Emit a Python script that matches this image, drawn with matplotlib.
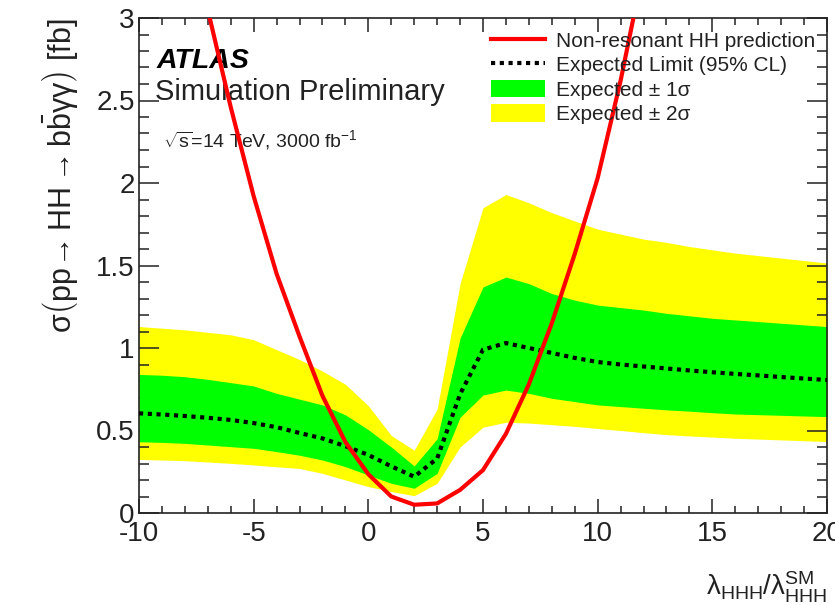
import numpy as np
import matplotlib
matplotlib.use("Agg")
import matplotlib.pyplot as plt
from matplotlib.ticker import MultipleLocator, FuncFormatter
from matplotlib.lines import Line2D
from matplotlib.patches import Patch

plt.rcParams['font.family'] = ['Liberation Sans', 'DejaVu Sans']
plt.rcParams['mathtext.fontset'] = 'custom'
plt.rcParams['mathtext.rm'] = 'Liberation Sans'
plt.rcParams['mathtext.it'] = 'Liberation Sans:italic'
plt.rcParams['mathtext.bf'] = 'Liberation Sans:bold'
plt.rcParams['mathtext.default'] = 'regular'
plt.rcParams['axes.unicode_minus'] = False

# ---- data ----
kappa = [-10, -9, -8, -7, -6, -5, -4, -3, -2, -1, 0, 1, 2, 3, 4, 5, 6, 7, 8, 9,
         10, 11, 12, 13, 14, 15, 16, 17, 18, 19, 20]
exp_limit = [0.604, 0.597, 0.588, 0.577, 0.564, 0.545, 0.520, 0.485, 0.452, 0.405,
             0.352, 0.283, 0.220, 0.330, 0.720, 0.990, 1.030, 1.000, 0.970, 0.940,
             0.915, 0.900, 0.888, 0.876, 0.864, 0.853, 0.843, 0.834, 0.824, 0.815, 0.806]
band1_hi = [0.840, 0.835, 0.826, 0.810, 0.790, 0.770, 0.725, 0.690, 0.655, 0.595,
            0.505, 0.400, 0.285, 0.450, 1.060, 1.370, 1.430, 1.390, 1.330, 1.290,
            1.260, 1.245, 1.230, 1.210, 1.195, 1.180, 1.170, 1.160, 1.150, 1.140, 1.130]
band1_lo = [0.432, 0.428, 0.422, 0.412, 0.402, 0.392, 0.372, 0.350, 0.321, 0.281,
            0.230, 0.180, 0.150, 0.240, 0.580, 0.715, 0.745, 0.725, 0.695, 0.675,
            0.655, 0.645, 0.635, 0.625, 0.617, 0.608, 0.600, 0.596, 0.592, 0.588, 0.584]
band2_hi = [1.130, 1.120, 1.110, 1.095, 1.080, 1.050, 0.990, 0.930, 0.860, 0.780,
            0.650, 0.470, 0.380, 0.630, 1.390, 1.850, 1.930, 1.880, 1.820, 1.770,
            1.720, 1.690, 1.660, 1.640, 1.615, 1.595, 1.575, 1.560, 1.545, 1.530, 1.515]
band2_lo = [0.325, 0.321, 0.317, 0.309, 0.301, 0.291, 0.280, 0.270, 0.240, 0.200,
            0.160, 0.130, 0.105, 0.180, 0.400, 0.520, 0.550, 0.545, 0.535, 0.525,
            0.512, 0.500, 0.487, 0.475, 0.467, 0.460, 0.453, 0.448, 0.443, 0.438, 0.433]

theory_kappa = [-7, -6, -5, -4, -3, -2, -1, 0, 1, 2, 3, 4, 5, 6, 7, 8, 9, 10, 11, 12]
theory_xsec = [3.05, 2.46, 1.92, 1.45, 1.07, 0.71, 0.43, 0.235, 0.10, 0.05, 0.058,
               0.14, 0.26, 0.48, 0.78, 1.15, 1.57, 2.03, 2.62, 3.30]

legend_labels = ["Non-resonant HH prediction", "Expected Limit (95% CL)",
                 "Expected \u00b1 1\u03c3", "Expected \u00b1 2\u03c3"]

# ---- figure ----
W, H = 835, 605
fig = plt.figure(figsize=(W / 100, H / 100), dpi=100)
ax = fig.add_axes([139 / W, 1 - 513 / H, (827 - 139) / W, (513 - 18) / H])

ax.fill_between(kappa, band2_lo, band2_hi, color='#ffff00', lw=0, zorder=1)
ax.fill_between(kappa, band1_lo, band1_hi, color='#00ff00', lw=0, zorder=2)
ax.plot(kappa, exp_limit, color='black', lw=3.0, linestyle=(0, (1.0, 1.1)),
        dash_capstyle='butt', zorder=3)
ax.plot(theory_kappa, theory_xsec, color='#ff0000', lw=3.0, zorder=4)

ax.set_xlim(-10, 20)
ax.set_ylim(0, 3)

ax.xaxis.set_major_locator(MultipleLocator(5))
ax.xaxis.set_minor_locator(MultipleLocator(1))
ax.yaxis.set_major_locator(MultipleLocator(0.5))
ax.yaxis.set_minor_locator(MultipleLocator(0.1))
ax.yaxis.set_major_formatter(FuncFormatter(lambda v, p: '%g' % v))
ax.xaxis.set_major_formatter(FuncFormatter(lambda v, p: '%g' % v))

ax.tick_params(which='both', direction='in', top=True, right=True, width=1.1,
               color='#222222', labelsize=20, labelcolor='#222222')
ax.tick_params(axis='x', which='major', length=10, pad=6)
ax.tick_params(axis='x', which='minor', length=5)
ax.tick_params(axis='y', which='major', length=14.4, pad=3)
ax.tick_params(axis='y', which='minor', length=7.2)
for s in ax.spines.values():
    s.set_linewidth(1.2)
    s.set_color('#222222')

ax.set_xlabel(r"$\lambda_{HHH}/\lambda_{HHH}^{SM}$", loc='right', fontsize=20,
              color='#222222', labelpad=16)
ax.set_ylabel(r"$\sigma\left(\mathrm{pp}\!\rightarrow \mathrm{HH} \rightarrow \mathrm{b}\bar{\mathrm{b}}\gamma\gamma\right)$ [fb]",
              loc='top', fontsize=22, color='#222222', labelpad=12)

# annotations
ax.text((157 - 139) / (827 - 139), (513 - 68) / 495, "ATLAS",
        transform=ax.transAxes, fontsize=20.5, fontweight='bold', fontstyle='italic',
        color='black', ha='left', va='baseline')
ax.text((155 - 139) / (827 - 139), (513 - 100) / 495, "Simulation Preliminary",
        transform=ax.transAxes, fontsize=21, color='#222222', ha='left', va='baseline')
ax.text((163 - 139) / (827 - 139), (513 - 147) / 495, r"$\sqrt{s}$=14 TeV, 3000 fb$^{-1}$",
        transform=ax.transAxes, fontsize=14, color='#222222', ha='left', va='baseline')

handles = [Line2D([], [], color='#ff0000', lw=3.0),
           Line2D([], [], color='black', lw=3.0, linestyle=(0, (1.0, 1.1))),
           Patch(facecolor='#00ff00', edgecolor='none'),
           Patch(facecolor='#ffff00', edgecolor='none')]
ax.legend(handles, legend_labels, loc='upper left',
          bbox_to_anchor=((491 - 139) / (827 - 139), (513 - 31) / 495),
          frameon=False, fontsize=15, handlelength=2.6, handleheight=0.9,
          handletextpad=0.5, labelspacing=0.22, borderaxespad=0, borderpad=0,
          labelcolor='#222222')

fig.savefig("out.png", dpi=100)
